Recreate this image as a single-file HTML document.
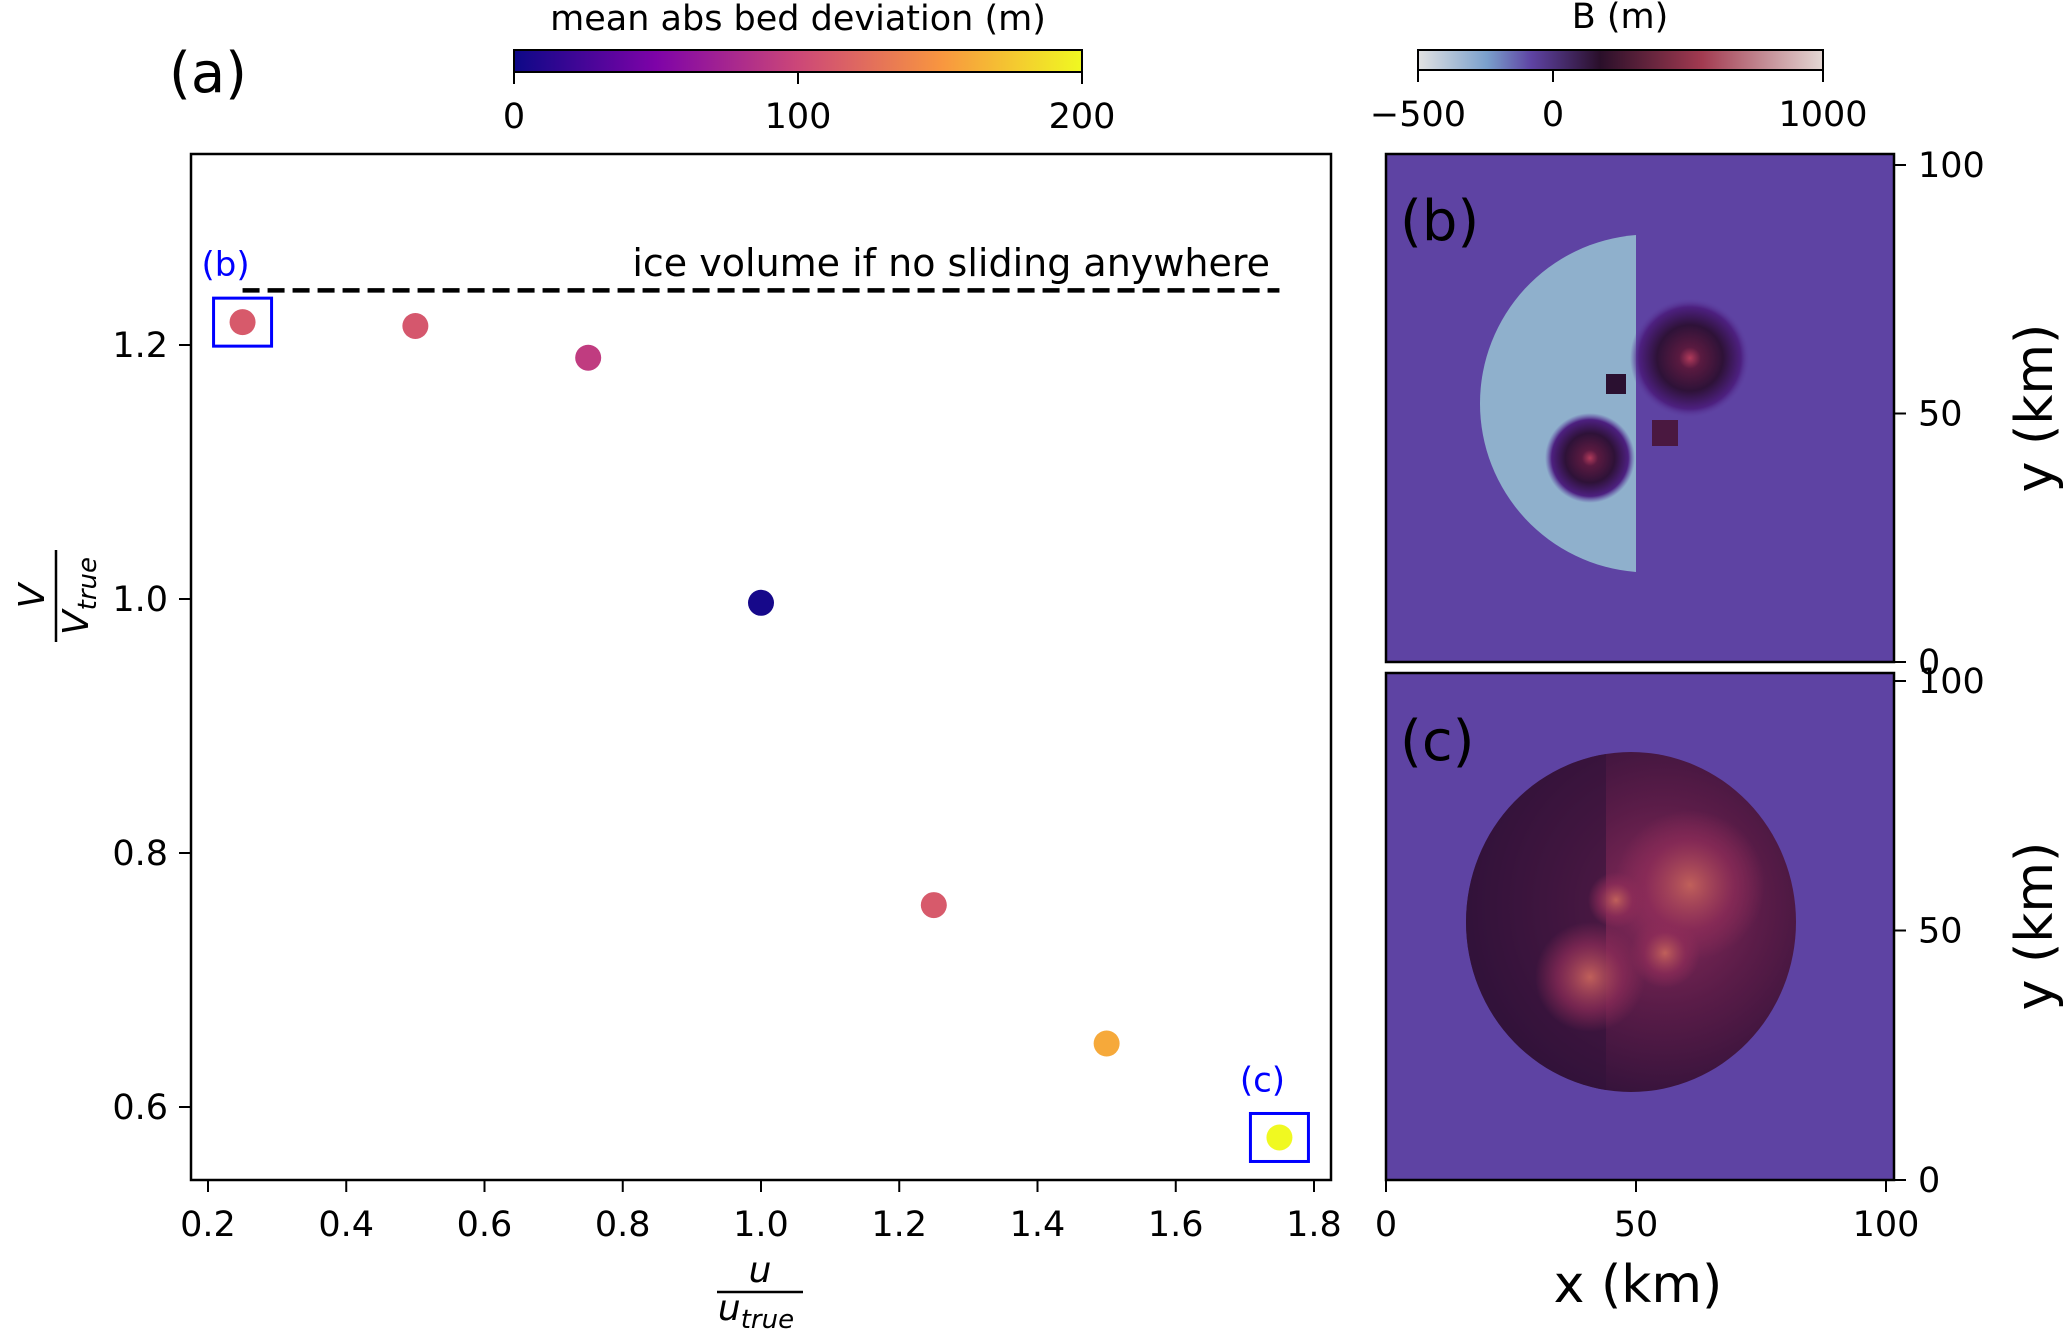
<!DOCTYPE html>
<html><head><meta charset="utf-8">
<style>
html,body{margin:0;padding:0;background:#fff;}
svg{display:block;font-family:"DejaVu Sans","Liberation Sans",sans-serif;}
</style></head>
<body>
<svg id="fig" width="2067" height="1332" viewBox="0 0 2067 1332" xmlns="http://www.w3.org/2000/svg">
<defs>
<linearGradient id="plasma" x1="0" x2="1" y1="0" y2="0">
<stop offset="0" stop-color="#0d0887"/><stop offset="0.25" stop-color="#7e03a8"/><stop offset="0.5" stop-color="#cc4778"/><stop offset="0.75" stop-color="#f89540"/><stop offset="1" stop-color="#f0f921"/>
</linearGradient>
<linearGradient id="bcm" x1="0" x2="1" y1="0" y2="0">
<stop offset="0" stop-color="#e2e2e2"/><stop offset="0.17" stop-color="#7aa0cc"/><stop offset="0.28" stop-color="#5e43a3"/><stop offset="0.45" stop-color="#2a0f2a"/><stop offset="0.7" stop-color="#a13a50"/><stop offset="1" stop-color="#e4d8d4"/>
</linearGradient>
<radialGradient id="blobD"><stop offset="0" stop-color="#b03a5a"/><stop offset="0.18" stop-color="#5a1a40"/><stop offset="0.55" stop-color="#2e1238"/><stop offset="0.85" stop-color="#4d2080"/><stop offset="1" stop-color="#5e43a3" stop-opacity="0"/></radialGradient>
<radialGradient id="discC" cx="0.6" cy="0.45" r="0.6"><stop offset="0" stop-color="#8a2c5a"/><stop offset="0.5" stop-color="#5a1c48"/><stop offset="1" stop-color="#32123a"/></radialGradient>
<radialGradient id="spot"><stop offset="0" stop-color="#c0605a"/><stop offset="0.6" stop-color="#8e2c58" stop-opacity="0.7"/><stop offset="1" stop-color="#8e2c58" stop-opacity="0"/></radialGradient>
<clipPath id="clipC"><ellipse cx="1631" cy="922" rx="165" ry="170"/></clipPath>
</defs>

<text x="208" y="92" font-size="56" text-anchor="middle">(a)</text>

<g>
<text x="798" y="30" font-size="35" text-anchor="middle">mean abs bed deviation (m)</text>
<rect x="514" y="50" width="568" height="22" fill="url(#plasma)" stroke="#000" stroke-width="2"/>
<g id="cb1ticks"></g>
</g>
<g>
<text x="1620" y="28" font-size="35" text-anchor="middle">B (m)</text>
<rect x="1418" y="50" width="405" height="20" fill="url(#bcm)" stroke="#000" stroke-width="2"/>
<g id="cb2ticks"></g>
</g>

<g id="mainAx"></g>

<g>
<rect x="1386" y="154" width="508" height="508" fill="#5e43a3"/>
<path d="M1636 235 A169 169 0 0 0 1636 572 Z" fill="#8fb0cc"/>
<circle cx="1690" cy="358" r="60" fill="url(#blobD)"/>
<circle cx="1590" cy="458" r="45" fill="url(#blobD)"/>
<rect x="1606" y="374" width="20" height="20" fill="#2a1030"/>
<rect x="1652" y="420" width="26" height="26" fill="#4a1840"/>
<rect x="1386" y="154" width="508" height="508" fill="none" stroke="#000" stroke-width="2.5"/>
<text x="1400" y="240" font-size="56">(b)</text>
</g>
<g>
<rect x="1386" y="673" width="508" height="507" fill="#5e43a3"/>
<ellipse cx="1631" cy="922" rx="165" ry="170" fill="url(#discC)"/>
<g clip-path="url(#clipC)">
<rect x="1466" y="753" width="140" height="340" fill="#32123a" opacity="0.6"/>
<circle cx="1690" cy="885" r="75" fill="url(#spot)"/>
<circle cx="1590" cy="977" r="55" fill="url(#spot)"/>
<circle cx="1665" cy="953" r="35" fill="url(#spot)"/>
<circle cx="1616" cy="900" r="28" fill="url(#spot)"/>
</g>
<rect x="1386" y="673" width="508" height="507" fill="none" stroke="#000" stroke-width="2.5"/>
<text x="1400" y="760" font-size="56">(c)</text>
</g>
<g id="sideTicks"></g>
<text x="1638" y="1302" font-size="52" text-anchor="middle">x (km)</text>
<text transform="translate(2052,408) rotate(-90)" font-size="52" text-anchor="middle">y (km)</text>
<text transform="translate(2052,926) rotate(-90)" font-size="52" text-anchor="middle">y (km)</text>
</svg>
<script>
const ratios = [0.25, 0.5, 0.75, 1.0, 1.25, 1.5, 1.75];
const volumes = [1.218, 1.215, 1.19, 0.997, 0.759, 0.65, 0.576];
const deviations = [112, 110, 92, 4, 112, 160, 200];
const xTicks = [0.2, 0.4, 0.6, 0.8, 1.0, 1.2, 1.4, 1.6, 1.8];
const yTicks = [0.6, 0.8, 1.0, 1.2];
const noSlideVolume = 1.243;
const cb1Ticks = [0, 100, 200];
const cb2Ticks = [-500, 0, 1000];
const kmTicks = [0, 50, 100];

const NS = 'http://www.w3.org/2000/svg';
function el(tag, attrs, parent, text){const e=document.createElementNS(NS,tag);for(const k in attrs)e.setAttribute(k,attrs[k]);if(text!==undefined)e.textContent=text;parent.appendChild(e);return e;}
const X = v => 208 + (v - 0.2) * (1314 - 208) / 1.6;
const Y = v => 1107 - (v - 0.6) * (1107 - 345) / 0.6;
const stops = [[0,[13,8,135]],[0.25,[126,3,168]],[0.5,[204,71,120]],[0.75,[248,149,64]],[1,[240,249,33]]];
function plasma(t){t=Math.max(0,Math.min(1,t));for(let i=1;i<stops.length;i++){if(t<=stops[i][0]){const a=stops[i-1],b=stops[i],f=(t-a[0])/(b[0]-a[0]);return 'rgb('+a[1].map((c,j)=>Math.round(c+(b[1][j]-c)*f)).join(',')+')';}}}

const ax = document.getElementById('mainAx');
const frame = el('rect',{x:191,y:154,width:1140,height:1026,fill:'#fff',stroke:'#000','stroke-width':2.5},ax);


xTicks.forEach(t=>{
  const l = el('line',{x1:X(t),x2:X(t),y1:1180,y2:1192,stroke:'#000','stroke-width':2},ax);
  
  
  const tx = el('text',{x:X(t),y:1236,'font-size':35,'text-anchor':'middle'},ax,t.toFixed(1));
  
  
});
yTicks.forEach(t=>{
  const l = el('line',{x1:179,x2:191,y1:Y(t),y2:Y(t),stroke:'#000','stroke-width':2},ax);
  
  
  const tx = el('text',{x:168,y:Y(t)+12,'font-size':35,'text-anchor':'end'},ax,t.toFixed(1));
  
  
});
const dl = el('line',{x1:X(ratios[0]),x2:X(ratios[ratios.length-1]),y1:Y(noSlideVolume),y2:Y(noSlideVolume),stroke:'#000','stroke-width':4.5,'stroke-dasharray':'17,8'},ax);


const dt = el('text',{x:1270,y:276,'font-size':38,'text-anchor':'end'},ax,'ice volume if no sliding anywhere');


ratios.forEach((r,i)=>{
  const c = el('circle',{cx:X(r),cy:Y(volumes[i]),r:13,fill:plasma(deviations[i]/200)},ax);
  
  
});
[[0,'(b)'],[ratios.length-1,'(c)']].forEach(([i,lab])=>{
  const cx=X(ratios[i]), cy=Y(volumes[i]);
  const b = el('rect',{x:cx-29,y:cy-24,width:58,height:48,fill:'none',stroke:'#0000ff','stroke-width':3},ax);
  
  
  const t = el('text',{x:cx-17,y:cy-46,'font-size':34,fill:'#0000ff','text-anchor':'middle'},ax,lab);
  
  
});
const yl = el('g',{transform:'translate(58,596) rotate(-90)'},ax);


el('text',{x:0,y:-14,'font-size':36,'text-anchor':'middle','font-style':'italic'},yl,'V');
el('line',{x1:-46,x2:46,y1:-2,y2:-2,stroke:'#000','stroke-width':2.5},yl);
const yt = el('text',{x:0,y:30,'font-size':36,'text-anchor':'middle','font-style':'italic'},yl,'V');
el('tspan',{'font-size':26,dy:8},yt,'true');
const xl = el('g',{transform:'translate(760,1290)'},ax);


el('text',{x:0,y:-8,'font-size':36,'text-anchor':'middle','font-style':'italic'},xl,'u');
el('line',{x1:-43,x2:43,y1:2,y2:2,stroke:'#000','stroke-width':2.5},xl);
const xt = el('text',{x:-4,y:30,'font-size':36,'text-anchor':'middle','font-style':'italic'},xl,'u');
el('tspan',{'font-size':26,dy:8},xt,'true');

const cb1 = document.getElementById('cb1ticks');
cb1Ticks.forEach(t=>{
  const x = 514 + t/200*568;
  el('line',{x1:x,x2:x,y1:72,y2:84,stroke:'#000','stroke-width':2},cb1);
  const tx = el('text',{x:x,y:128,'font-size':35,'text-anchor':'middle'},cb1,String(t));
  
  
});
const cb2 = document.getElementById('cb2ticks');
cb2Ticks.forEach(t=>{
  const x = 1418 + (t+500)/1500*405;
  el('line',{x1:x,x2:x,y1:70,y2:82,stroke:'#000','stroke-width':2},cb2);
  const tx = el('text',{x:x,y:126,'font-size':35,'text-anchor':'middle'},cb2,String(t).replace('-','\u2212'));
  
  
});
const st = document.getElementById('sideTicks');
kmTicks.forEach(t=>{
  const x = 1386 + t*5.0;
  el('line',{x1:x,x2:x,y1:1180,y2:1192,stroke:'#000','stroke-width':2},st);
  const a = el('text',{x:x,y:1236,'font-size':35,'text-anchor':'middle'},st,String(t));
  
  
  [[662,4.97],[1180,4.99]].forEach(([base,s])=>{
    const y = base - t*s;
    el('line',{x1:1894,x2:1906,y1:y,y2:y,stroke:'#000','stroke-width':2},st);
    const b = el('text',{x:1918,y:y+12,'font-size':35},st,String(t));
    
    
  });
});
</script>
</body></html>
